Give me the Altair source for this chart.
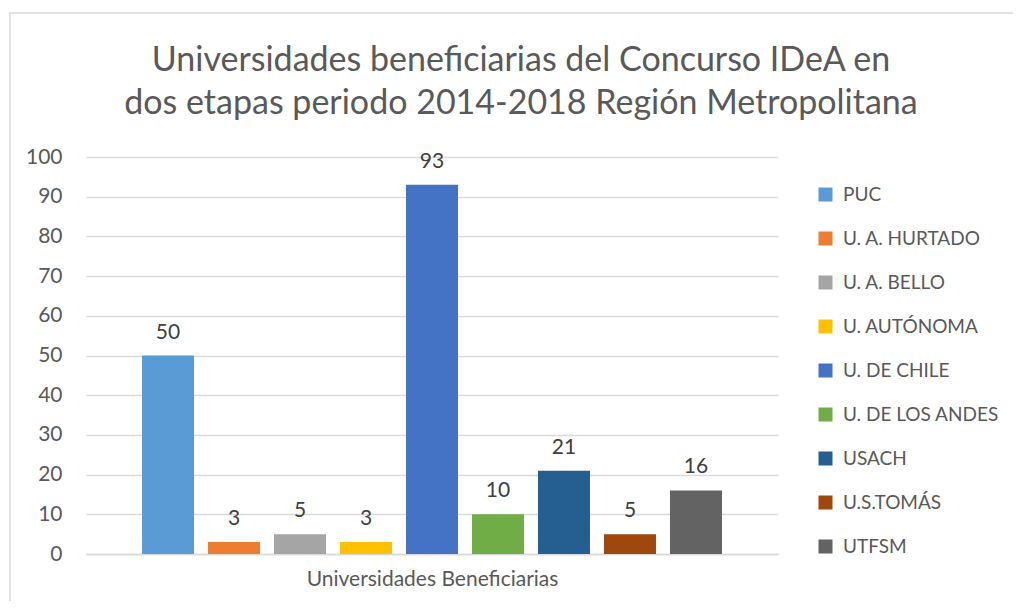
import altair as alt
import pandas as pd

universidades = ["PUC", "U. A. HURTADO", "U. A. BELLO", "U. AUTÓNOMA", "U. DE CHILE",
                 "U. DE LOS ANDES", "USACH", "U.S.TOMÁS", "UTFSM"]
valores = [50, 3, 5, 3, 93, 10, 21, 5, 16]
colores = ["#5B9BD5", "#ED7D31", "#A5A5A5", "#FFC000", "#4472C4",
           "#70AD47", "#255E91", "#9E480E", "#636363"]
y_ticks = [0, 10, 20, 30, 40, 50, 60, 70, 80, 90, 100]

df = pd.DataFrame({"Universidad": universidades, "Valor": valores})

FONT = "Lato"
W, H = 692, 397

x_enc = alt.X("Universidad:N", sort=universidades,
              scale=alt.Scale(paddingInner=0.212, paddingOuter=0.849),
              axis=alt.Axis(labels=False, ticks=False, domain=True, domainColor="#D9D9D9",
                            domainWidth=1.5, title="Universidades Beneficiarias",
                            titleFontSize=21, titleFont=FONT, titleFontWeight="normal",
                            titleColor="#595959", titlePadding=14))
y_enc = alt.Y("Valor:Q", scale=alt.Scale(domain=[0, 100], nice=False),
              axis=alt.Axis(values=y_ticks, title=None, domain=False, ticks=False,
                            grid=True, gridColor="#D9D9D9", gridWidth=1.5,
                            labelFontSize=21, labelFont=FONT, labelColor="#595959",
                            labelPadding=24, labelOverlap=False, tickCount=11))

frame = alt.Chart(pd.DataFrame({"a": [0]})).mark_rect(
    fillOpacity=0, stroke="#D9D9D9", strokeWidth=1.5, clip=False
).encode(x=alt.value(-76), x2=alt.value(1200), y=alt.value(-144), y2=alt.value(800))

bars = alt.Chart(df).mark_bar(size=52).encode(
    x=x_enc, y=y_enc,
    color=alt.Color("Universidad:N", sort=universidades,
                    scale=alt.Scale(domain=universidades, range=colores),
                    legend=alt.Legend(title=None, orient="none", legendX=730, legendY=28,
                                      symbolType="square", symbolSize=196,
                                      symbolStrokeWidth=0, labelFontSize=19,
                                      labelFont=FONT, labelColor="#595959",
                                      labelOffset=8, rowPadding=24, labelLimit=300))
)

labels = alt.Chart(df).mark_text(baseline="bottom", dy=-13, fontSize=21, font=FONT,
                                 color="#404040").encode(
    x=x_enc, y=y_enc, text="Valor:Q")

chart = alt.layer(frame, bars, labels).properties(
    width=W, height=H,
    autosize=alt.AutoSizeParams(type="none"),
    padding={"left": 78, "top": 149, "right": 235, "bottom": 47},
    title=alt.Title(["Universidades beneficiarias del Concurso IDeA en",
                     "dos etapas periodo 2014-2018 Región Metropolitana"],
                    fontSize=34, font=FONT, fontWeight="normal", color="#595959",
                    anchor="middle", dx=89, offset=0, dy=109, lineHeight=43)
).configure_view(stroke=None)

chart.save("out.html", embed_options={"renderer": "svg", "actions": False})
